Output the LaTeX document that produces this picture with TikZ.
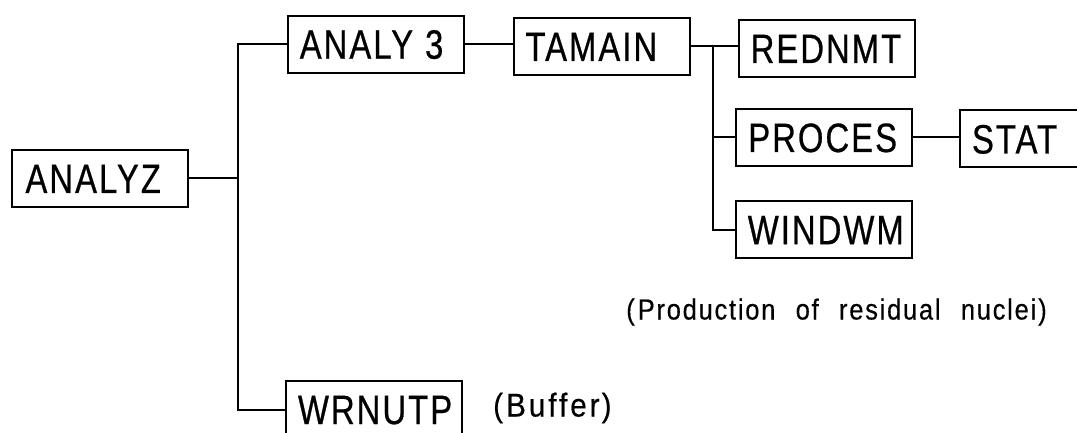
\documentclass[tikz,border=0pt]{standalone}
\usepackage{fontspec}
\newfontfamily\boxfont[FakeStretch=0.8,LetterSpace=5,FakeBold=0.6]{Liberation Sans}
\newfontfamily\notefont[FakeStretch=0.88,LetterSpace=6,WordSpace=2.3,FakeBold=0.4]{Liberation Sans}
\newfontfamily\bufffont[FakeStretch=0.9,LetterSpace=9,FakeBold=0.4]{Liberation Sans}
\begin{document}
\begin{tikzpicture}[x=1pt,y=-1pt,
  prog/.style={draw, line width=2pt, inner xsep=12pt, inner ysep=0pt,
    text width=152pt, align=left, minimum height=57pt,
    text height=29pt, text depth=0pt,
    font=\boxfont\fontsize{41}{41}\selectfont},
  link/.style={line width=2pt},
  note/.style={inner sep=0pt}]
\useasboundingbox (0,0) rectangle (1077,433);
\clip (0,0) rectangle (1077,433);

% program units
\node[prog, inner xsep=14pt, text width=148pt] (analyz) at (99.5,178.5) {ANALYZ};
\node[prog] (analy3) at (375.8,44.2) {ANALY\hspace{12pt}3};
\node[prog] (tamain) at (601.5,46.5) {TAMAIN};
\node[prog] (rednmt) at (826.7,48.5) {REDNMT};
\node[prog] (proces) at (824.3,137.5) {PROCES};
\node[prog] (windwm) at (823.8,229.7) {WINDWM};
\node[prog] (stat)   at (1048,139) {STAT};
\node[prog] (wrnutp) at (374,409.5) {WRNUTP};

% remarks
\node[note, anchor=west, font=\bufffont\fontsize{33}{33}\selectfont]
  (buffer) at (493,408) {(\hspace{3pt}Buffer\hspace{2pt})};
\node[note, anchor=east, font=\notefont\fontsize{29}{29}\selectfont]
  (resid) at (1047,312) {(\hspace{3pt}Production of residual nuclei\hspace{2pt})};

% call tree
\coordinate (trunkA) at (237.5,178.5);
\coordinate (trunkB) at (712.7,46.5);
\draw[link] (analyz.east) -- (trunkA);
\draw[link] (analy3.west) -| (trunkA) |- (wrnutp.west);
\draw[link] (analy3.east) -- (analy3.east -| tamain.west);
\draw[link] (tamain.east) -- (tamain.east -| rednmt.west);
\draw[link] (trunkB) |- (windwm.west);
\draw[link] (trunkB |- proces.west) -- (proces.west);
\draw[link] (proces.east) -- (proces.east -| stat.west);
\end{tikzpicture}
\end{document}
